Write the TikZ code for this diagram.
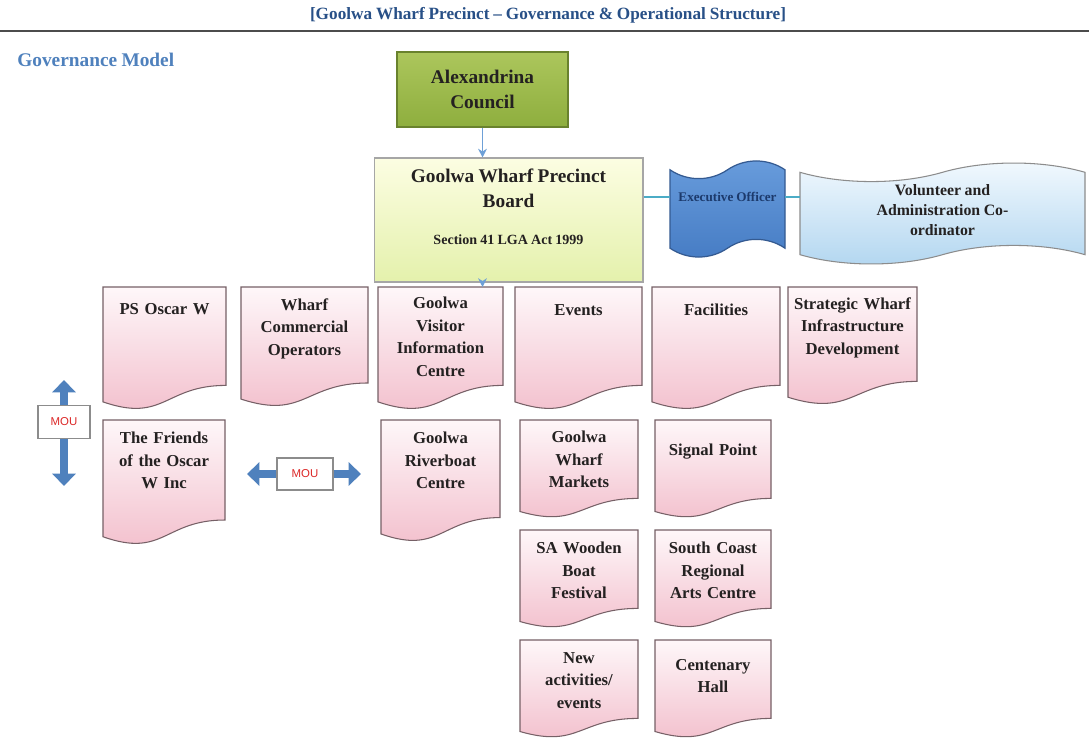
\documentclass[tikz,border=0pt]{standalone}
\usepackage{fontspec}
\setmainfont{Liberation Serif}[WordSpace=0.9]
\newfontfamily\moufont{Liberation Sans}
\usepackage{xcolor}
\definecolor{titleblue}{RGB}{40,80,135}
\definecolor{modelblue}{RGB}{79,129,189}
\definecolor{doctop}{RGB}{254,247,249}
\definecolor{docmid}{RGB}{250,224,231}
\definecolor{docbot}{RGB}{242,188,202}
\definecolor{docline}{RGB}{118,96,102}
\definecolor{darktext}{RGB}{36,33,33}
\definecolor{counciltop}{RGB}{172,198,92}
\definecolor{councilbot}{RGB}{142,174,62}
\definecolor{councilline}{RGB}{105,130,45}
\definecolor{boardtop}{RGB}{252,253,226}
\definecolor{boardbot}{RGB}{228,241,172}
\definecolor{eotop}{RGB}{104,156,220}
\definecolor{eobot}{RGB}{70,124,196}
\definecolor{eoline}{RGB}{52,90,145}
\definecolor{eotext}{RGB}{28,58,108}
\definecolor{vactop}{RGB}{242,249,254}
\definecolor{vacbot}{RGB}{178,214,240}
\definecolor{linkblue}{RGB}{110,160,215}
\definecolor{teal}{RGB}{75,172,198}
\definecolor{moured}{RGB}{220,40,40}
\usetikzlibrary{positioning}
\usetikzlibrary{calc}
\usetikzlibrary{arrows.meta}

% wavy tape: style, x, y, w, h (pixel units)
\newcommand{\drawtape}[5]{%
  \draw[#1] (#2,{#3+0.1*#5})
    .. controls ({#2+0.15*#4},{#3+0.22*#5}) and ({#2+0.35*#4},{#3+0.22*#5}) .. ({#2+0.5*#4},{#3+0.1*#5})
    .. controls ({#2+0.65*#4},{#3-0.02*#5}) and ({#2+0.85*#4},{#3-0.02*#5}) .. ({#2+#4},{#3+0.1*#5})
    -- ({#2+#4},{#3+0.9*#5})
    .. controls ({#2+0.85*#4},{#3+0.78*#5}) and ({#2+0.65*#4},{#3+0.78*#5}) .. ({#2+0.5*#4},{#3+0.9*#5})
    .. controls ({#2+0.35*#4},{#3+1.02*#5}) and ({#2+0.15*#4},{#3+1.02*#5}) .. (#2,{#3+0.9*#5})
    -- cycle;}

\begin{document}
\begin{tikzpicture}[x=0.02cm, y=-0.02cm,
    docbox/.style={draw=docline, line width=0.6pt, top color=doctop, middle color=docmid, bottom color=docbot},
    doctext/.style={anchor=north, inner xsep=0pt, inner ysep=0pt, align=center, text=darktext,
      font=\fontsize{9.5}{12.8}\selectfont\bfseries},
    council/.style={draw=councilline, line width=0.8pt, top color=counciltop, bottom color=councilbot,
      minimum width=3.42cm, minimum height=1.5cm, align=center, text=darktext,
      font=\fontsize{11}{14.2}\selectfont\bfseries},
    board/.style={draw=black!35, line width=0.6pt, top color=boardtop, bottom color=boardbot,
      minimum width=5.38cm, minimum height=2.48cm, align=center, text=darktext, text depth=15pt,
      font=\fontsize{11}{14.2}\selectfont\bfseries},
    eoshape/.style={draw=eoline, line width=0.7pt, top color=eotop, bottom color=eobot},
    vacshape/.style={draw=black!45, line width=0.6pt, top color=vactop, bottom color=vacbot},
    link/.style={draw=linkblue, line width=0.6pt, -{Stealth[length=5pt,width=5pt]}},
    tealline/.style={draw=teal, line width=0.8pt},
    moubox/.style={draw=black!45, fill=white, line width=0.6pt, minimum width=1.04cm, minimum height=0.66cm,
      inner sep=0pt, text=moured, font=\moufont\fontsize{6.5}{7}\selectfont},
    mouarrow/.style={draw=modelblue, line width=5pt, -{Triangle[width=13pt,length=7pt]}}]

		%page and margins
		\fill[white] (0,0) rectangle (1089,740);
		\useasboundingbox (0,0) rectangle (1089,740);

		%heading
		\node[text=titleblue, font=\fontsize{9.8}{11}\selectfont\bfseries] (title) at (548,15)
			{[Goolwa Wharf Precinct – Governance \& Operational Structure]};
		\draw[black!70, line width=0.8pt] (0,31) -- (1089,31);
		\node[anchor=west, inner sep=0pt, text=modelblue, font=\fontsize{11}{13}\selectfont\bfseries] (model) at (17,60)
			{Governance Model};

		%council and board
		\node[council] (council) at (482.5,89.5) {Alexandrina\\Council};
		\node[board] (board) at (508.5,220) {Goolwa Wharf Precinct\\Board\\[7pt]{\fontsize{8}{9}\selectfont Section 41 LGA Act 1999}};

		%executive officer and volunteer coordinator
		\drawtape{eoshape}{670}{160}{115}{98}
		\node[minimum width=2.3cm, inner sep=0pt, text=eotext, font=\fontsize{7.5}{9}\selectfont\bfseries] (eo) at (727.5,197) {Executive Officer};
		\drawtape{vacshape}{800}{162}{285}{103}
		\node[minimum width=5.7cm, inner sep=0pt, align=center, text=darktext, font=\fontsize{9}{11.4}\selectfont\bfseries] (vac) at (942.5,210)
			{Volunteer and\\Administration Co-\\ordinator};

		%document boxes: x/y/width/height/text offset/name/text
		\foreach \x/\y/\w/\h/\p/\n/\lbl in {
			103/287/123/123/16/psw/{PS Oscar W},
			241/287/127/120/11/wco/{Wharf\\Commercial\\Operators},
			378/287/125/123/10/gvic/{Goolwa\\Visitor\\Information\\Centre},
			515/287/127/123/17/events/{Events},
			652/287/128/123/17/facil/{Facilities},
			788/287/129/118/10/swid/{Strategic Wharf\\Infrastructure\\Development},
			103/420/122/125/12/friends/{The Friends\\of the Oscar\\W Inc},
			381/420/119/122/12/grc/{Goolwa\\Riverboat\\Centre},
			520/420/118/98/11/gwm/{Goolwa\\Wharf\\Markets},
			655/420/116/98/24/sigp/{Signal Point},
			520/530/118/98/12/sawbf/{SA Wooden\\Boat\\Festival},
			655/530/116/98/12/scrac/{South Coast\\Regional\\Arts Centre},
			520/640/118/98/12/newact/{New\\activities/\\events},
			655/640/116/98/19/chall/{Centenary\\Hall}}
		{
			\draw[docbox] (\x,\y) -- ({\x+\w},\y) -- ({\x+\w},{\y+0.80*\h})
				.. controls ({\x+0.5*\w},{\y+0.80*\h}) and ({\x+0.5*\w},{\y+1.107*\h}) .. (\x,{\y+0.934*\h}) -- cycle;
			\pgfmathsetmacro\tw{(\w-8)*0.02}
			\coordinate (\n-top) at ({\x+0.5*\w},\y);
			\node[doctext, text width=\tw cm] (\n) at ({\x+0.5*\w},{\y+\p}) {\lbl};
		}

		%MOU markers
		\node[moubox] (mouv) at (64,422) {MOU};
		\coordinate (mouvup) at (64,380);
		\coordinate (mouvdn) at (64,486);
		\draw[mouarrow] (mouv.north) -- (mouvup);
		\draw[mouarrow] (mouv.south) -- (mouvdn);
		\node[moubox, minimum width=1.12cm, minimum height=0.64cm] (mouh) at (305,474) {MOU};
		\coordinate (mouhleft) at (247,474);
		\coordinate (mouhright) at (361,474);
		\draw[mouarrow] (mouh.west) -- (mouhleft);
		\draw[mouarrow] (mouh.east) -- (mouhright);

		%connectors
		\draw[link] (council.south) -- (council.south |- board.north);
		\draw[link] (council.south |- board.south) -- (council.south |- gvic-top);
		\draw[tealline] (board.east |- eo.west) -- (eo.west);
		\draw[tealline] (eo.east) -- (eo.east -| vac.west);
\end{tikzpicture}
\end{document}
